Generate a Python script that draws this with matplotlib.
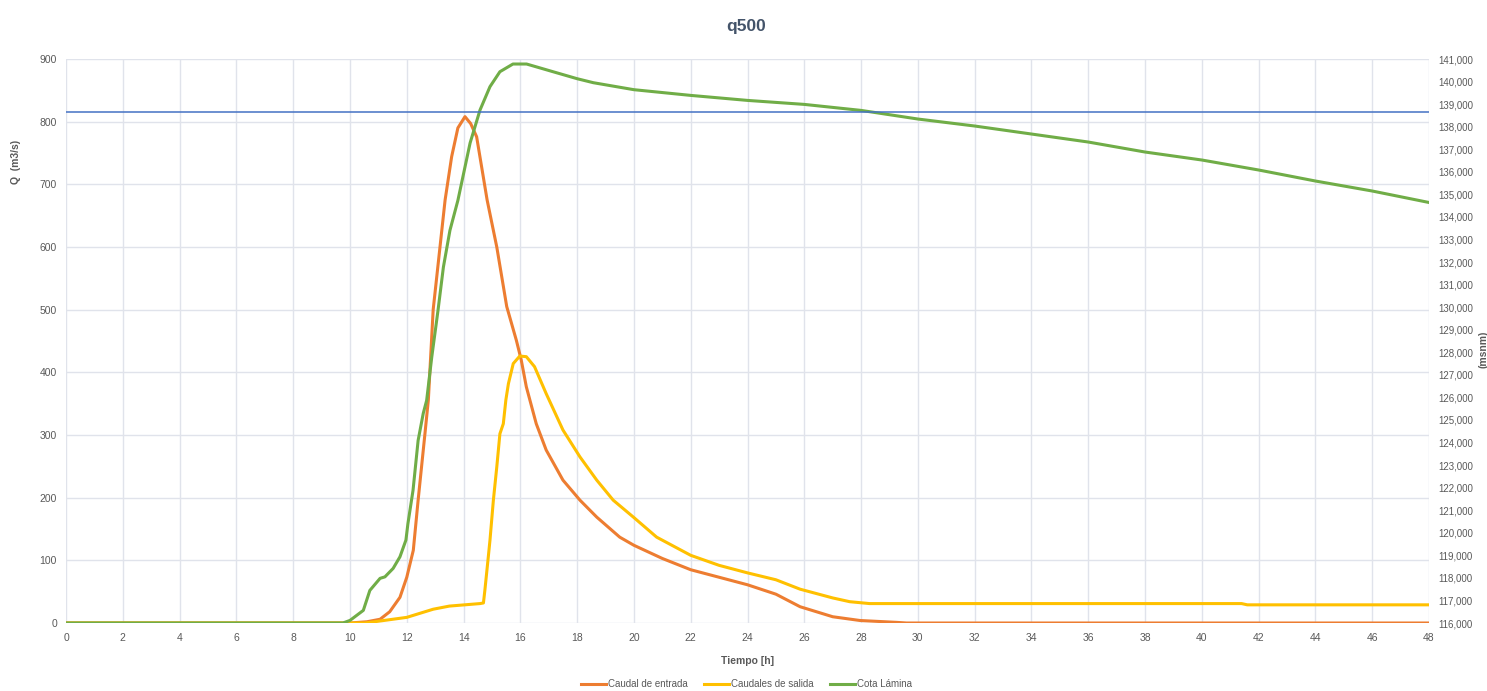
import matplotlib
matplotlib.use("Agg")
import matplotlib.pyplot as plt
from matplotlib.ticker import FuncFormatter, MultipleLocator

# ======================================================
# DATA
# ======================================================

# Caudal de entrada (m3/s)
t_in = [0, 10.0, 10.6, 11.06, 11.4, 11.76, 12.0, 12.23, 12.4, 12.52, 12.64,
        12.76, 12.93, 13.17, 13.35, 13.58, 13.8, 14.05, 14.25, 14.46, 14.83,
        15.17, 15.52, 15.86, 16.03, 16.21, 16.56, 16.91, 17.5, 18.1, 18.69,
        19.5, 20, 21, 22, 23, 24, 25, 25.85, 27, 27.96, 29.26, 29.6, 48]
q_in = [0, 0, 2, 6, 18, 41, 73, 116, 196, 249, 302,
        356, 500, 600, 675, 744, 790, 808, 797, 776, 675,
        600, 505, 451, 420, 377, 318, 276, 228, 196, 169,
        137, 124, 103, 85, 73, 61, 46, 26, 10, 4, 1, 0, 0]

# Caudales de salida (m3/s)
t_out = [0, 10.5, 10.7, 12.0, 12.93, 13.5, 14.58, 14.7, 14.75, 14.87, 14.93,
         15.05, 15.17, 15.28, 15.4, 15.49, 15.58, 15.75, 15.98, 16.21, 16.5,
         16.91, 17.5, 18.1, 18.69, 19.27, 19.98, 20.8, 22, 23, 24, 25, 25.85,
         27, 27.6, 28.3, 41.4, 41.6, 48]
q_out = [0, 0, 1, 9, 22, 27, 31, 32, 52, 105, 132,
         196, 249, 302, 318, 356, 382, 414, 426, 425, 409,
         366, 308, 265, 228, 196, 169, 137, 108, 92, 80, 69, 54,
         40, 34, 31, 31, 29, 29]

# Cota Lamina (msnm)
t_cota = [0, 9.75, 10.0, 10.47, 10.7, 11.06, 11.23, 11.52, 11.76, 11.97,
          12.04, 12.22, 12.4, 12.58, 12.7, 12.88, 13.1, 13.29, 13.52, 13.8,
          14.23, 14.58, 14.93, 15.28, 15.74, 16.22, 17.15, 18, 18.57, 20,
          22, 24, 26, 28, 30, 32, 34, 36, 38, 40, 42, 44, 46, 48]
cota = [116000, 116000, 116115, 116560, 117445, 117980, 118045, 118420,
        118935, 119675, 120400, 121877, 124094, 125290, 125867, 127786,
        129856, 131776, 133402, 134732, 137277, 138740, 139773, 140437,
        140778, 140778, 140437, 140127, 139950, 139640, 139387, 139165,
        138988, 138722, 138340, 138030, 137675, 137320, 136877, 136523,
        136080, 135592, 135149, 134640]

# reference level (horizontal blue line, msnm)
COTA_REF = 138670

# ======================================================
# STYLE
# ======================================================

FONT = ["Liberation Sans", "DejaVu Sans"]
plt.rcParams["font.family"] = FONT

TXT = "#595959"
GRID = "#e0e3eb"

C_IN = "#ED7D31"
C_OUT = "#FFC000"
C_COTA = "#70AD47"
C_REF = "#4472C4"

# ======================================================
# FIGURE
# ======================================================

fig = plt.figure(figsize=(14.87, 6.91), dpi=100)
ax = fig.add_axes([0.0444, 0.0984, 0.9166, 0.8162])
ax2 = ax.twinx()

l1, = ax.plot(t_in, q_in, color=C_IN, lw=2.2, label="Caudal de entrada")
l2, = ax.plot(t_out, q_out, color=C_OUT, lw=2.2, label="Caudales de salida")
l3, = ax2.plot(t_cota, cota, color=C_COTA, lw=2.2, label="Cota Lámina")
ax2.axhline(COTA_REF, color=C_REF, lw=1.1)

ax.set_xlim(0, 48)
ax.set_ylim(0, 900)
ax2.set_ylim(116000, 141000)

ax.xaxis.set_major_locator(MultipleLocator(2))
ax.yaxis.set_major_locator(MultipleLocator(100))
ax2.yaxis.set_major_locator(MultipleLocator(1000))
ax2.yaxis.set_major_formatter(FuncFormatter(lambda v, p: f"{v:,.0f}"))

ax.grid(True, color=GRID, lw=1)
ax.set_axisbelow(True)

for a in (ax, ax2):
    for s in a.spines.values():
        s.set_visible(False)
    a.tick_params(length=0, labelsize=7.5, colors=TXT)

ax2.tick_params(axis="y", labelsize=7, pad=7)
ax.tick_params(axis="y", pad=6.5)
ax.tick_params(axis="x", pad=7)

fig.text(0.5015, 0.961, "q500", ha="center", va="center",
         fontsize=12.5, fontweight="bold", color="#44546A")
fig.text(0.5025, 0.043, "Tiempo [h]", ha="center", va="center",
         fontsize=7.5, fontweight="bold", color=TXT)
fig.text(0.0105, 0.765, "Q  (m3/s)", ha="center", va="center", rotation=90,
         fontsize=7.5, fontweight="bold", color=TXT)
fig.text(0.9975, 0.495, "(msnm)", ha="center", va="center", rotation=90,
         fontsize=7.5, fontweight="bold", color=TXT)

fig.legend(handles=[l1, l2, l3], loc="center", bbox_to_anchor=(0.502, 0.01),
           ncol=3, frameon=False, fontsize=7, labelcolor=TXT,
           handlelength=2.6, handletextpad=0.15, columnspacing=1.7)

fig.savefig("out.png", dpi=100, facecolor="white")
